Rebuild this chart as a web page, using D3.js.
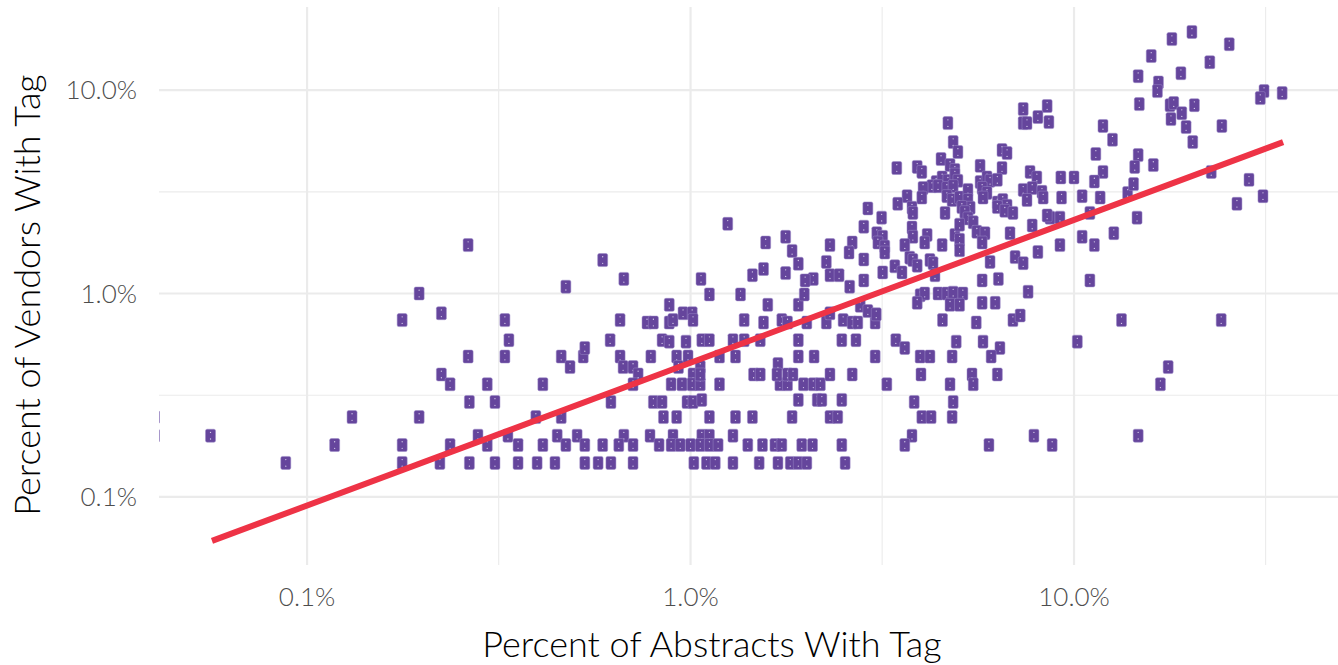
<!DOCTYPE html>
<html>
<head>
<meta charset="utf-8">
<script src="https://cdn.jsdelivr.net/npm/d3@7"></script>
<style>
  html, body { margin: 0; padding: 0; background: #fff; }
  svg { display: block; font-family: Lato, "Open Sans", sans-serif; }
</style>
</head>
<body>
<svg id="chart" width="1338" height="665"></svg>
<script>
// percent of abstracts with tag (x) and percent of vendors with tag (y), one entry per tag
const abstractsPct = [
  // left tail
  0.040, 0.040, 0.056, 0.088, 0.118, 0.131, 0.177, 0.177, 0.177, 0.196,
  0.196, 0.224, 0.224, 0.236, 0.236, 0.222, 0.263,
  // 0.25% - 1%
  0.59, 0.67, 0.473, 0.328, 0.655, 0.77, 0.80, 0.88, 0.88, 0.90,
  0.956, 1.01, 1.015, 0.336, 0.617, 0.843, 0.88, 0.973, 0.263, 0.328,
  0.46, 0.485, 0.525, 0.53, 0.655, 0.667, 0.708, 0.73, 0.788, 0.92,
  0.93, 0.985, 1.015, 0.295, 0.412, 0.708, 0.89, 0.95, 1.01, 0.265,
  0.309, 0.62, 0.80, 0.843, 0.979, 1.015, 0.395, 0.46, 0.85, 0.92,
  0.279, 0.334, 0.449, 0.506, 0.67, 0.784, 0.90, 0.295, 0.355, 0.412,
  0.473, 0.53, 0.59, 0.65, 0.708, 0.828, 0.89, 0.94, 1.0, 0.265,
  0.309, 0.355, 0.398, 0.443, 0.53, 0.574, 0.62, 0.708, 1.02,
  // 1% - 3%, low rows
  1.06, 1.19, 1.71, 1.79, 1.97, 2.09, 2.18, 3.25,
  1.07, 1.91, 2.14, 2.2, 2.48,
  1.12, 1.31, 1.45, 1.84, 2.31, 2.42,
  1.07, 1.12, 1.29,
  1.06, 1.12, 1.18, 1.41, 1.54, 1.66, 1.73, 1.95, 2.08, 2.48,
  1.10, 1.16, 1.29, 1.51, 1.69, 1.82, 1.91, 2.01, 2.53,
  // 1% - 3%, upper rows
  1.06, 1.69,
  1.06, 1.46, 1.52, 1.68, 1.79, 1.85, 2.31, 2.64,
  1.19, 1.31, 1.91, 2.10,
  1.07, 1.12, 1.29, 1.38, 1.52, 1.91, 2.48, 2.70,
  1.38, 1.73, 2.50,
  1.55, 1.79, 2.01, 2.26, 2.64, 2.73, 3.03,
  1.59, 1.91, 2.77, 2.31, 2.9, 3.05,
  1.12, 1.35, 1.98,
  1.065, 2.09, 1.45, 2.31, 2.44, 1.55, 1.77, 1.99, 2.83, 2.60,
  1.25, 1.57, 2.64, 1.77, 1.84, 1.91, 2.31, 2.59, 2.83, 2.9, 2.83, 2.26,
  // 3% - 10%, low rows
  4.54, 5.56, 6.93, 7.24, 3.43, 3.62, 4.93, 5.79, 6.41, 6.08,
  3.03, 3.97, 4.21, 4.81, 10.2, 3.99, 5.42, 5.46, 4.75, 6.31,
  3.83, 4.84, 4.01, 4.24, 4.81, 3.78, 3.62, 6.0, 7.86, 8.77,
  // 9% - 35%
  9.28, 10.5, 11.7, 13.8, 8.66, 9.19, 11.0, 14.6, 26.6, 31.1,
  9.19, 10.5, 11.3, 12.7, 11.0, 13.3, 24.2, 17.6, 16.8, 14.7,
  20.3, 18.0, 25.4, 15.9, 22.6, 14.7, 19.0, 16.6, 16.5, 31.3,
  30.6, 34.9, 14.8, 17.8, 18.2, 20.6, 19.1, 17.9, 19.6, 20.4,
  24.3, 11.9, 12.6, 11.4, 14.7, 14.4, 16.1, 11.9, 11.3, 9.24,
  10.0, 22.8, 28.6, 14.3,
  // 3% - 10%, dense cluster
  4.69, 7.37, 7.37, 7.54, 8.51, 8.05, 8.6,
  4.84, 4.98, 6.49, 6.69,
  3.45, 3.9, 4.01, 4.5, 4.75, 4.89, 5.69, 6.49, 7.68, 8.0,
  4.37, 4.53, 4.69, 4.89, 4.98,
  4.26, 4.42, 4.66, 4.84,
  5.69, 5.93, 6.04, 6.31, 5.76, 5.93,
  4.04, 4.01, 3.67, 3.47,
  4.66, 4.81, 5.03, 5.29, 5.29, 5.36,
  5.79, 6.31, 6.52, 6.69,
  7.37, 7.78, 7.54, 8.25, 8.31,
  3.15, 3.78, 3.8, 4.61, 5.1, 5.19, 5.29,
  6.31, 6.6, 6.93, 8.51,
  3.06, 3.17, 3.08, 3.21,
  3.78, 3.8, 4.14, 4.08, 3.62, 3.73,
  4.89, 5.03, 5.03, 5.46, 5.58, 5.86, 5.76, 4.53, 6.81, 7.78,
  3.21, 3.41, 3.56, 3.8, 3.9, 4.21, 4.29, 5.03, 6.04, 7.02, 7.37, 8.05,
  3.17, 4.34, 5.76, 6.35, 7.59,
  3.97, 4.08, 4.42, 4.66, 4.84, 5.13,
  4.75, 5.03, 5.76, 6.23, 3.9
];

const vendorsPct = [
  // left tail
  0.247, 0.2, 0.2, 0.147, 0.18, 0.247, 0.74, 0.18, 0.147, 1.0,
  0.247, 0.80, 0.40, 0.358, 0.18, 0.147, 1.73,
  // 0.25% - 1%
  1.46, 1.18, 1.08, 0.74, 0.74, 0.72, 0.72, 0.88, 0.72, 0.74,
  0.80, 0.80, 0.74, 0.59, 0.59, 0.59, 0.58, 0.58, 0.49, 0.49,
  0.49, 0.435, 0.49, 0.54, 0.49, 0.435, 0.435, 0.40, 0.49, 0.49,
  0.435, 0.49, 0.40, 0.358, 0.358, 0.358, 0.358, 0.358, 0.358, 0.293,
  0.293, 0.293, 0.293, 0.293, 0.293, 0.293, 0.247, 0.247, 0.247, 0.247,
  0.2, 0.2, 0.2, 0.2, 0.2, 0.2, 0.2, 0.18, 0.18, 0.18,
  0.18, 0.18, 0.18, 0.18, 0.18, 0.18, 0.18, 0.18, 0.18, 0.147,
  0.147, 0.147, 0.147, 0.147, 0.147, 0.147, 0.147, 0.147, 0.147,
  // 1% - 3%, low rows
  0.358, 0.358, 0.358, 0.358, 0.358, 0.358, 0.358, 0.358,
  0.30, 0.30, 0.30, 0.30, 0.30,
  0.247, 0.247, 0.247, 0.247, 0.247, 0.247,
  0.2, 0.2, 0.2,
  0.18, 0.18, 0.18, 0.18, 0.18, 0.18, 0.18, 0.18, 0.18, 0.18,
  0.147, 0.147, 0.147, 0.147, 0.147, 0.147, 0.147, 0.147, 0.147,
  // 1% - 3%, upper rows
  0.435, 0.45,
  0.40, 0.40, 0.40, 0.40, 0.40, 0.40, 0.40, 0.40,
  0.49, 0.49, 0.49, 0.49,
  0.59, 0.59, 0.59, 0.59, 0.59, 0.59, 0.59, 0.59,
  0.74, 0.74, 0.74,
  0.72, 0.72, 0.72, 0.72, 0.72, 0.72, 0.72,
  0.88, 0.88, 0.87, 0.80, 0.82, 0.79,
  0.99, 0.99, 0.99,
  1.18, 1.18, 1.23, 1.23, 1.23, 1.32, 1.26, 1.16, 1.16, 1.08,
  2.20, 1.78, 1.78, 1.90, 1.62, 1.40, 1.73, 1.59, 2.13, 2.62, 1.47, 1.43,
  // 3% - 10%, low rows
  0.74, 0.72, 0.74, 0.78, 0.59, 0.54, 0.58, 0.58, 0.54, 0.49,
  0.49, 0.49, 0.49, 0.49, 0.58, 0.40, 0.40, 0.358, 0.358, 0.40,
  0.293, 0.293, 0.247, 0.247, 0.247, 0.2, 0.18, 0.18, 0.2, 0.18,
  // 9% - 35%
  2.96, 3.01, 2.96, 3.12, 2.36, 2.36, 2.49, 2.36, 2.76, 3.01,
  1.73, 1.90, 1.73, 1.98, 1.16, 0.74, 0.74, 0.435, 0.358, 0.2,
  19.3, 17.8, 16.8, 14.7, 13.7, 11.7, 12.1, 10.9, 9.88, 9.88,
  9.13, 9.66, 8.53, 8.43, 8.63, 8.43, 7.7, 7.2, 6.58, 5.55,
  6.66, 6.66, 5.7, 4.85, 4.79, 4.19, 4.28, 3.96, 3.55, 3.72,
  3.72, 3.96, 3.62, 3.45,
  // 3% - 10%, dense cluster
  6.88, 8.07, 6.88, 6.88, 8.35, 7.37, 6.96,
  5.55, 4.96, 5.07, 4.90,
  4.14, 4.19, 3.96, 4.58, 4.28, 4.05, 4.24, 4.14, 3.96, 3.72,
  3.53, 3.72, 3.58, 3.84, 3.58,
  3.37, 3.37, 3.30, 3.37,
  3.53, 3.72, 3.58, 3.62, 3.30, 3.12,
  3.30, 2.96, 3.01, 2.76,
  3.01, 2.88, 2.96, 3.23, 2.88, 2.64,
  2.96, 2.80, 2.88, 2.70,
  3.23, 3.30, 2.88, 3.16, 2.96,
  2.36, 2.64, 2.49, 2.49, 2.66, 2.51, 2.34,
  2.66, 2.55, 2.49, 2.42,
  1.98, 1.90, 1.78, 1.70,
  2.11, 1.90, 1.94, 1.78, 1.73, 1.50,
  1.94, 1.84, 2.18, 2.24, 2.01, 1.98, 1.78, 1.73, 1.98, 2.16,
  1.59, 1.36, 1.27, 1.46, 1.37, 1.46, 1.41, 1.63, 1.43, 1.51, 1.41, 1.6,
  1.27, 1.23, 1.16, 1.18, 1.02,
  0.98, 1.0, 1.0, 1.0, 1.01, 1.0,
  0.88, 0.88, 0.90, 0.90, 0.90
];

// fitted trend line (log-log), end points
const trendAbstractsPct = [0.0565, 35.1];
const trendVendorsPct = [0.0608, 5.55];

// axes
const axisLimitsX = [0.0411, 48.8];
const axisLimitsY = [0.0463, 25.6];
const majorBreaks = [0.1, 1, 10];
const minorBreaksX = [0.316, 3.16, 31.6];
const minorBreaksY = [0.316, 3.16];
const xTitle = "Percent of Abstracts With Tag";
const yTitle = "Percent of Vendors With Tag";

if (abstractsPct.length !== vendorsPct.length) {
  console.error("length mismatch", abstractsPct.length, vendorsPct.length);
}

const svg = d3.select("#chart");
const panel = { left: 159, right: 1338, top: 7, bottom: 565 };

const x = d3.scaleLog().domain(axisLimitsX).range([panel.left, panel.right]);
const y = d3.scaleLog().domain(axisLimitsY).range([panel.bottom, panel.top]);
const fmt = v => d3.format(".1%")(v / 100);

// grid
const grid = svg.append("g");
grid.selectAll(".minor-x").data(minorBreaksX).join("line")
  .attr("x1", d => x(d)).attr("x2", d => x(d))
  .attr("y1", panel.top).attr("y2", panel.bottom)
  .attr("stroke", "#ebebeb").attr("stroke-width", 1.1);
grid.selectAll(".minor-y").data(minorBreaksY).join("line")
  .attr("y1", d => y(d)).attr("y2", d => y(d))
  .attr("x1", panel.left).attr("x2", panel.right)
  .attr("stroke", "#ebebeb").attr("stroke-width", 1.1);
grid.selectAll(".major-x").data(majorBreaks).join("line")
  .attr("x1", d => x(d)).attr("x2", d => x(d))
  .attr("y1", panel.top).attr("y2", panel.bottom)
  .attr("stroke", "#ebebeb").attr("stroke-width", 2.2);
grid.selectAll(".major-y").data(majorBreaks).join("line")
  .attr("y1", d => y(d)).attr("y2", d => y(d))
  .attr("x1", panel.left).attr("x2", panel.right)
  .attr("stroke", "#ebebeb").attr("stroke-width", 2.2);

// points, clipped to the panel
svg.append("clipPath").attr("id", "panel-clip")
  .append("rect")
  .attr("x", panel.left).attr("y", panel.top)
  .attr("width", panel.right - panel.left).attr("height", panel.bottom - panel.top);

const points = d3.zip(abstractsPct, vendorsPct);
const marks = svg.append("g").attr("clip-path", "url(#panel-clip)")
  .selectAll("g").data(points).join("g")
  .attr("transform", d => `translate(${x(d[0])},${y(d[1])})`);
marks.append("rect")
  .attr("x", -5).attr("y", -6.5).attr("width", 10).attr("height", 13).attr("rx", 1.6)
  .attr("fill", "#65459c").attr("stroke", "#9b89c6").attr("stroke-width", 0.5);
marks.append("circle").attr("cx", 0).attr("cy", -3.3).attr("r", 0.65).attr("fill", "#d6cdea");
marks.append("circle").attr("cx", 0).attr("cy", 3.3).attr("r", 0.65).attr("fill", "#d6cdea");

// trend line
const line = d3.line().x(d => x(d[0])).y(d => y(d[1]));
svg.append("path")
  .datum(d3.zip(trendAbstractsPct, trendVendorsPct))
  .attr("d", line)
  .attr("fill", "none")
  .attr("stroke", "#ee3346")
  .attr("stroke-width", 6);

// tick labels
svg.append("g").selectAll("text").data(majorBreaks).join("text")
  .attr("x", d => x(d)).attr("y", 606)
  .attr("text-anchor", "middle")
  .attr("font-size", 26).attr("font-weight", 300).attr("fill", "#4d4d4d")
  .text(fmt);
svg.append("g").selectAll("text").data(majorBreaks).join("text")
  .attr("x", 137).attr("y", d => y(d)).attr("dy", "0.36em")
  .attr("text-anchor", "end")
  .attr("font-size", 26).attr("font-weight", 300).attr("fill", "#4d4d4d")
  .text(fmt);

// axis titles
svg.append("text")
  .attr("x", 712).attr("y", 657)
  .attr("text-anchor", "middle")
  .attr("font-size", 36).attr("font-weight", 300).attr("fill", "#000")
  .text(xTitle);
svg.append("text")
  .attr("transform", "translate(40,295) rotate(-90)")
  .attr("text-anchor", "middle")
  .attr("font-size", 36).attr("font-weight", 300).attr("fill", "#000")
  .text(yTitle);
</script>
</body>
</html>
